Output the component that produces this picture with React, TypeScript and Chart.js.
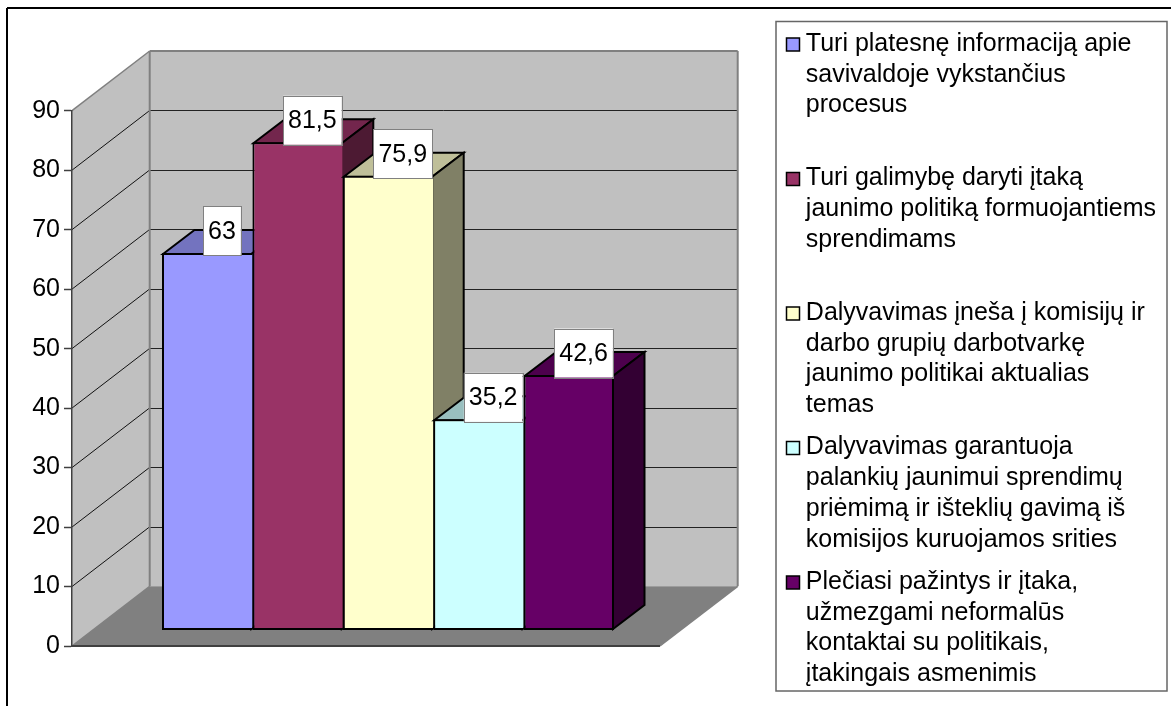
import React, { useEffect, useRef } from "react";
import { Chart, registerables } from "chart.js";

Chart.register(...registerables);

const categories = [""];
const seriesLines = [
  ["Turi platesnę informaciją apie", "savivaldoje vykstančius", "procesus", ""],
  ["Turi galimybę daryti įtaką", "jaunimo politiką formuojantiems", "sprendimams", ""],
  ["Dalyvavimas įneša į komisijų ir", "darbo grupių darbotvarkę", "jaunimo politikai aktualias", "temas"],
  ["Dalyvavimas garantuoja", "palankių jaunimui sprendimų", "priėmimą ir išteklių gavimą iš", "komisijos kuruojamos srities"],
  ["Plečiasi pažintys ir įtaka,", "užmezgami neformalūs", "kontaktai su politikais,", "įtakingais asmenimis"],
];
const seriesValues = [63, 81.5, 75.9, 35.2, 42.6];
const seriesColors = ["#9999ff", "#993366", "#ffffcc", "#ccffff", "#660066"];
const axisMin = 0;
const axisMax = 90;
const axisStep = 10;

const FONT = "'Liberation Sans', Arial, sans-serif";
const TICK_SIZE = 25;
const LABEL_SIZE = 25;
const LEGEND_SIZE = 25;
const LINE_H = 30.75;
const WALL_DX = 77.7;
const WALL_DY = 59.7;
const FLOOR_W = 588;
const BAR_DX = 31.5;
const BAR_DY = 24;
const BAR_BASE_LIFT = 16;
const AREA_H = 535.3;
const BAR_PX_PER_UNIT = 5.985;
const LEGEND_PAD = 11.5;
const LEGEND_WIDTH_LIMIT = 420;
const PAD_TOP = 20;
const PAD_RIGHT = 5;
const FRAME = { l: 776, t: 21.5, r: 1167, b: 691 };

function shade(hex: string, f: number) {
  const n = parseInt(hex.slice(1), 16);
  const c = [(n >> 16) & 255, (n >> 8) & 255, n & 255].map((v) => Math.round(v * f));
  return `rgb(${c[0]},${c[1]},${c[2]})`;
}

function poly(ctx: CanvasRenderingContext2D, pts: number[][], fill: string, stroke?: string, lw = 2) {
  ctx.beginPath();
  pts.forEach((p, i) => (i ? ctx.lineTo(p[0], p[1]) : ctx.moveTo(p[0], p[1])));
  ctx.closePath();
  ctx.fillStyle = fill;
  ctx.fill();
  if (stroke) {
    ctx.strokeStyle = stroke;
    ctx.lineWidth = lw;
    ctx.lineJoin = "miter";
    ctx.stroke();
  }
}

function line(ctx: CanvasRenderingContext2D, x1: number, y1: number, x2: number, y2: number, color: string, lw: number) {
  ctx.beginPath();
  ctx.moveTo(x1, y1);
  ctx.lineTo(x2, y2);
  ctx.strokeStyle = color;
  ctx.lineWidth = lw;
  ctx.stroke();
}

const scenePlugin = {
  id: "scene3d",
  beforeLayout(chart: any) {
    // the layout caps a side box at a fraction of the width; the legend here is wider than that
    const legend = chart.legend;
    if (legend && !legend.__wide) {
      const update = legend.update;
      legend.update = (w: number, h: number, m: any) => update.call(legend, LEGEND_WIDTH_LIMIT, h, m);
      legend.__wide = true;
    }
  },
  beforeDraw(chart: any) {
    const { ctx, chartArea, scales } = chart;
    const y = scales.y;
    const L = chartArea.left;
    const y0 = y.getPixelForValue(axisMin);
    const yT = y.getPixelForValue(axisMax);
    const R = L + FLOOR_W;
    const bL = L + WALL_DX;
    const bR = R + WALL_DX;
    ctx.save();
    ctx.fillStyle = "#ffffff";
    ctx.fillRect(0, 0, chart.width, chart.height);
    line(ctx, 7, 8, chart.width, 8, "#000", 2);
    line(ctx, 7, 8, 7, chart.height, "#000", 2);
    ctx.strokeStyle = "#666666";
    ctx.lineWidth = 1.5;
    ctx.strokeRect(FRAME.l, FRAME.t, FRAME.r - FRAME.l, FRAME.b - FRAME.t);
    poly(ctx, [[bL, yT - WALL_DY], [bR, yT - WALL_DY], [bR, y0 - WALL_DY], [bL, y0 - WALL_DY]], "#c0c0c0");
    poly(ctx, [[L, yT], [bL, yT - WALL_DY], [bL, y0 - WALL_DY], [L, y0]], "#c0c0c0");
    poly(ctx, [[L, y0], [bL, y0 - WALL_DY], [bR, y0 - WALL_DY], [R, y0]], "#808080");
    y.ticks.forEach((t: any) => {
      if (t.value === axisMin || t.value === axisMax) return;
      const p = y.getPixelForValue(t.value);
      line(ctx, L, p, bL, p - WALL_DY, "#111111", 1);
      line(ctx, bL, Math.round(p - WALL_DY) + 0.5, bR, Math.round(p - WALL_DY) + 0.5, "#222222", 1);
    });
    line(ctx, L, yT, bL, yT - WALL_DY, "#808080", 1.5);
    line(ctx, bL, yT - WALL_DY, bR, yT - WALL_DY, "#808080", 2);
    line(ctx, bL, yT - WALL_DY, bL, y0 - WALL_DY, "#808080", 2);
    line(ctx, bR, yT - WALL_DY, bR, y0 - WALL_DY, "#808080", 2);
    line(ctx, bR, y0 - WALL_DY, R, y0, "#808080", 1.5);
    line(ctx, L, y0, bL, y0 - WALL_DY, "#808080", 1.5);
    line(ctx, L, y0, R, y0, "#404040", 2);
    ctx.restore();
  },
  // bars overlap in depth, so they are painted left to right in afterDatasetsDraw
  beforeDatasetDraw() {
    return false;
  },
  afterDatasetsDraw(chart: any) {
    const { ctx } = chart;
    chart.data.datasets.forEach((ds: any, i: number) => {
      const meta = chart.getDatasetMeta(i);
      const color = seriesColors[i];
      const { x, y, base, width } = meta.data[0].getProps(["x", "y", "base", "width"], true);
      const l = x - width / 2 + 1;
      const r = x + width / 2 - 1;
      const top = y + 1;
      const bot = base - 1;
      ctx.save();
      poly(ctx, [[l, top], [l + BAR_DX, top - BAR_DY], [r + BAR_DX, top - BAR_DY], [r, top]], shade(color, 0.75), "#000");
      poly(ctx, [[r, top], [r + BAR_DX, top - BAR_DY], [r + BAR_DX, bot - BAR_DY], [r, bot]], shade(color, 0.5), "#000");
      ctx.restore();
      meta.controller.draw();
    });
    ctx.save();
    ctx.font = `${LABEL_SIZE}px ${FONT}`;
    chart.data.datasets.forEach((ds: any, i: number) => {
      const bar = chart.getDatasetMeta(i).data[0];
      const { x, y } = bar.getProps(["x", "y"], true);
      const text = String(ds.data[0]).replace(".", ",");
      const w = ctx.measureText(text).width + 10;
      const h = 49;
      const cx = x + BAR_DX / 2 - 1;
      const cy = y - 22;
      ctx.fillStyle = "#ffffff";
      ctx.fillRect(cx - w / 2, cy - h / 2, w, h);
      ctx.strokeStyle = "#808080";
      ctx.lineWidth = 1;
      ctx.strokeRect(Math.round(cx - w / 2) + 0.5, Math.round(cy - h / 2) + 0.5, Math.round(w), h);
      ctx.fillStyle = "#000000";
      ctx.textAlign = "center";
      ctx.textBaseline = "middle";
      ctx.fillText(text, cx, cy + 1);
    });
    ctx.restore();
  },
  afterDraw(chart: any) {
    const { ctx, legend } = chart;
    ctx.save();
    let top = legend.top + LEGEND_PAD;
    seriesLines.forEach((lines, i) => {
      const bx = FRAME.l + 10.5;
      ctx.fillStyle = seriesColors[i];
      ctx.fillRect(bx, top + 6.5, 13, 13);
      ctx.strokeStyle = "#000";
      ctx.lineWidth = 1.5;
      ctx.strokeRect(bx, top + 6.5, 13, 13);
      top += lines.length * LINE_H + LEGEND_PAD;
    });
    ctx.restore();
  },
};

export default function App() {
  const ref = useRef<HTMLCanvasElement | null>(null);
  useEffect(() => {
    if (!ref.current) return;
    const chart = new Chart(ref.current, {
      type: "bar",
      data: {
        labels: categories,
        datasets: seriesLines.map((lines, i) => ({
          label: lines.filter(Boolean).join(" "),
          data: [seriesValues[i]],
          yAxisID: "yBars",
          xAxisID: "x",
          backgroundColor: seriesColors[i],
          borderColor: "#000000",
          borderWidth: { left: 2, top: 2, bottom: 2, right: i === seriesLines.length - 1 ? 2 : 0 },
          borderSkipped: false,
          categoryPercentage: 0.7152,
          barPercentage: 1,
        })),
      },
      options: {
        responsive: false,
        animation: false,
        layout: { padding: { top: PAD_TOP, right: PAD_RIGHT, bottom: 0, left: 0 } },
        plugins: {
          tooltip: { enabled: false },
          title: { display: false },
          legend: {
            position: "right",
            align: "start",
            onClick: () => {},
            labels: {
              padding: LEGEND_PAD,
              boxWidth: 6,
              boxHeight: 6,
              color: "#000000",
              font: { family: FONT, size: LEGEND_SIZE, lineHeight: LINE_H / LEGEND_SIZE },
              generateLabels: () =>
                seriesLines.map((lines, i) => ({
                  text: lines,
                  fillStyle: "rgba(0,0,0,0)",
                  strokeStyle: "rgba(0,0,0,0)",
                  lineWidth: 0,
                  hidden: false,
                  datasetIndex: i,
                })),
            },
          },
        },
        scales: {
          x: {
            type: "category",
            position: "bottom",
            ticks: { display: false },
            grid: { display: false },
            border: { display: false },
            afterFit: (s: any) => {
              s.height = 60;
            },
          },
          xTop: {
            type: "category",
            position: "top",
            labels: categories,
            ticks: { display: false },
            grid: { display: false },
            border: { display: false },
            afterFit: (s: any) => {
              s.height = 110.7 - PAD_TOP;
            },
          },
          y: {
            position: "left",
            min: axisMin,
            max: axisMax,
            ticks: {
              stepSize: axisStep,
              color: "#000000",
              padding: 4,
              font: { family: FONT, size: TICK_SIZE },
            },
            grid: { drawOnChartArea: false, drawTicks: true, tickLength: 8, tickColor: "#404040", tickWidth: 1.5 },
            border: { display: true, color: "#404040", width: 1.5 },
            afterFit: (s: any) => {
              s.width = 72;
            },
          },
          yBars: {
            position: "right",
            min: axisMin - BAR_BASE_LIFT / BAR_PX_PER_UNIT,
            max: axisMin - BAR_BASE_LIFT / BAR_PX_PER_UNIT + AREA_H / BAR_PX_PER_UNIT,
            ticks: { display: false },
            grid: { display: false },
            border: { display: false },
            afterFit: (s: any) => {
              s.width = 1171 - PAD_RIGHT - (s.chart.legend?.width || 391) - 704;
            },
          },
        },
      },
      plugins: [scenePlugin],
    } as any);
    return () => chart.destroy();
  }, []);
  return (
    <div style={{ position: "absolute", left: 0, top: 0, width: 1171, height: 706, background: "#fff" }}>
      <canvas ref={ref} width={1171} height={706} style={{ display: "block" }} />
    </div>
  );
}
